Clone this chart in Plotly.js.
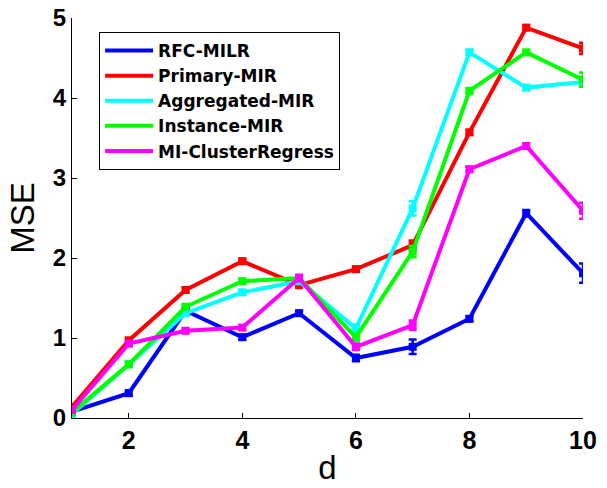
<!DOCTYPE html>
<html>
<head>
<meta charset="utf-8">
<script src="https://cdn.plot.ly/plotly-3.0.1.min.js"></script>
<style>
html,body{margin:0;padding:0;background:#fff;}
#chart{width:607px;height:488px;}
</style>
</head>
<body>
<div id="chart"></div>
<script>
const d = [1, 2, 3, 4, 5, 6, 7, 8, 9, 10];

const seriesNames = ["RFC-MILR", "Primary-MIR", "Aggregated-MIR", "Instance-MIR", "MI-ClusterRegress"];
const seriesColors = ["#0000ff", "#ff0000", "#00ffff", "#00ff00", "#ff00ff"];

const rfcMILR        = [0.08, 0.31, 1.34, 1.01, 1.31, 0.75, 0.89, 1.24, 2.56, 1.81];
const primaryMIR     = [0.14, 0.97, 1.60, 1.96, 1.66, 1.86, 2.16, 3.57, 4.88, 4.62];
const aggregatedMIR  = [0.05, 0.67, 1.31, 1.57, 1.71, 1.12, 2.62, 4.57, 4.13, 4.20];
const instanceMIR    = [0.07, 0.67, 1.39, 1.71, 1.75, 1.01, 2.08, 4.09, 4.57, 4.23];
const miCluster      = [0.10, 0.93, 1.09, 1.13, 1.75, 0.89, 1.16, 3.11, 3.40, 2.59];

const rfcErr         = [0.02, 0.03, 0.03, 0.03, 0.03, 0.04, 0.09, 0.03, 0.04, 0.12];
const primaryErr     = [0.02, 0.03, 0.03, 0.03, 0.03, 0.03, 0.06, 0.03, 0.03, 0.07];
const aggregatedErr  = [0.02, 0.03, 0.03, 0.03, 0.03, 0.05, 0.09, 0.03, 0.03, 0.04];
const instanceErr    = [0.02, 0.03, 0.03, 0.03, 0.03, 0.04, 0.07, 0.03, 0.03, 0.09];
const miClusterErr   = [0.02, 0.03, 0.03, 0.03, 0.04, 0.04, 0.06, 0.03, 0.03, 0.10];

const seriesValues = [rfcMILR, primaryMIR, aggregatedMIR, instanceMIR, miCluster];
const seriesErrors = [rfcErr, primaryErr, aggregatedErr, instanceErr, miClusterErr];

const xTicks = [2, 4, 6, 8, 10];
const yTicks = [0, 1, 2, 3, 4, 5];

const FONT = "Liberation Sans, Arial, sans-serif";
const LEGEND_FONT = "DejaVu Sans, Liberation Sans, Arial, sans-serif";

const dataTraces = seriesNames.map((name, i) => ({
  type: "scatter",
  mode: "lines+markers",
  name: name,
  showlegend: false,
  x: d,
  y: seriesValues[i],
  line: {color: seriesColors[i], width: 4},
  marker: {color: seriesColors[i], symbol: "square", size: 8},
  error_y: {type: "data", array: seriesErrors[i], visible: true, color: seriesColors[i], thickness: 2.5, width: 4}
}));

// legend entries: line-only samples, as in the reference legend
const legendTraces = seriesNames.map((name, i) => ({
  type: "scatter",
  mode: "lines",
  name: name,
  x: [null],
  y: [null],
  line: {color: seriesColors[i], width: 4}
}));

const layout = {
  width: 607,
  height: 488,
  margin: {l: 72, r: 24, t: 18, b: 70},
  paper_bgcolor: "#ffffff",
  plot_bgcolor: "#ffffff",
  showlegend: true,
  font: {family: FONT, color: "#000"},
  xaxis: {
    range: [1, 10],
    tickvals: xTicks,
    ticktext: xTicks.map(String),
    ticks: "inside",
    ticklen: 5,
    tickwidth: 1,
    tickcolor: "#000",
    showline: true,
    linecolor: "#000",
    linewidth: 1,
    showgrid: false,
    zeroline: false,
    tickfont: {size: 25, family: FONT, weight: "bold"},
    title: {text: "d", font: {size: 33, family: FONT}, standoff: 2}
  },
  yaxis: {
    range: [0, 5],
    tickvals: yTicks,
    ticktext: yTicks.map(String),
    ticks: "inside",
    ticklen: 5,
    tickwidth: 1,
    tickcolor: "#000",
    showline: true,
    linecolor: "#000",
    linewidth: 1,
    showgrid: false,
    zeroline: false,
    tickfont: {size: 24, family: FONT, weight: "bold"},
    title: {text: "MSE", font: {size: 33, family: FONT}, standoff: 8}
  },
  legend: {
    x: 0.053,
    y: 0.965,
    xanchor: "left",
    yanchor: "top",
    bgcolor: "#ffffff",
    bordercolor: "#000",
    borderwidth: 1,
    font: {size: 17, family: LEGEND_FONT, weight: "bold"},
    itemwidth: 48
  }
};

Plotly.newPlot("chart", dataTraces.concat(legendTraces), layout, {displayModeBar: false, staticPlot: true});
</script>
</body>
</html>
